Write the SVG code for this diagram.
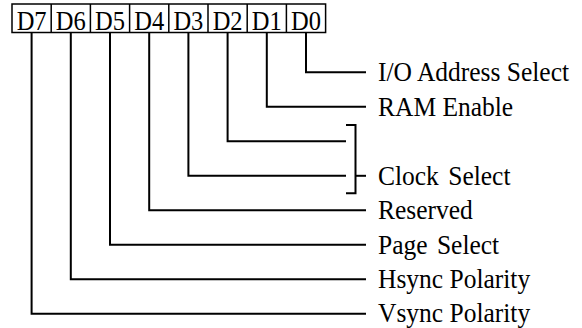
<svg xmlns="http://www.w3.org/2000/svg" width="582" height="328" viewBox="0 0 582 328">
<style>
.box{fill:#fff;stroke:#000;stroke-width:1.5}
.bit{font-family:"Liberation Serif","Times New Roman",serif;font-size:24.5px;fill:#000;text-anchor:middle}
.lbl{font-family:"Liberation Serif","Times New Roman",serif;font-size:25.5px;fill:#000}
.ln{fill:none;stroke:#000;stroke-width:2}
</style>
<rect width="582" height="328" fill="#fff"/>
<g id="register">
<rect class="box" x="12" y="4" width="313.6" height="28.5"/>
<line class="box" x1="51.2" y1="4" x2="51.2" y2="32.5"/>
<line class="box" x1="90.4" y1="4" x2="90.4" y2="32.5"/>
<line class="box" x1="129.6" y1="4" x2="129.6" y2="32.5"/>
<line class="box" x1="168.8" y1="4" x2="168.8" y2="32.5"/>
<line class="box" x1="208" y1="4" x2="208" y2="32.5"/>
<line class="box" x1="247.2" y1="4" x2="247.2" y2="32.5"/>
<line class="box" x1="286.4" y1="4" x2="286.4" y2="32.5"/>
<text class="bit" transform="translate(31.6,30) scale(1,1.08)">D7</text>
<text class="bit" transform="translate(70.8,30) scale(1,1.08)">D6</text>
<text class="bit" transform="translate(110,30) scale(1,1.08)">D5</text>
<text class="bit" transform="translate(149.2,30) scale(1,1.08)">D4</text>
<text class="bit" transform="translate(188.4,30) scale(1,1.08)">D3</text>
<text class="bit" transform="translate(227.6,30) scale(1,1.08)">D2</text>
<text class="bit" transform="translate(266.8,30) scale(1,1.08)">D1</text>
<text class="bit" transform="translate(306,30) scale(1,1.08)">D0</text>
</g>
<g id="connectors">
<polyline class="ln" points="306,32.5 306,72.3 366,72.3"/>
<polyline class="ln" points="266.8,32.5 266.8,106.8 366,106.8"/>
<polyline class="ln" points="227.6,32.5 227.6,141.3 346,141.3"/>
<polyline class="ln" points="188.4,32.5 188.4,175.8 346,175.8"/>
<polyline class="ln" points="346,125 355.5,125 355.5,193.3 346,193.3"/>
<line class="ln" x1="355.5" y1="175.8" x2="366" y2="175.8"/>
<polyline class="ln" points="149.2,32.5 149.2,210.3 366,210.3"/>
<polyline class="ln" points="110,32.5 110,244.8 366,244.8"/>
<polyline class="ln" points="70.8,32.5 70.8,279.3 366,279.3"/>
<polyline class="ln" points="31.6,32.5 31.6,313.8 366,313.8"/>
</g>
<g id="labels">
<text class="lbl" transform="translate(378,81) scale(1,1.05)">I/O Address Select</text>
<text class="lbl" transform="translate(378,115.5) scale(1,1.05)">RAM Enable</text>
<text class="lbl" transform="translate(378,184.5) scale(1,1.05)" word-spacing="3">Clock Select</text>
<text class="lbl" transform="translate(378,219) scale(1,1.05)">Reserved</text>
<text class="lbl" transform="translate(378,253.5) scale(1,1.05)" word-spacing="3">Page Select</text>
<text class="lbl" transform="translate(378,288) scale(1,1.05)">Hsync Polarity</text>
<text class="lbl" transform="translate(378,321.5) scale(1,1.05)">Vsync Polarity</text>
</g>
</svg>
